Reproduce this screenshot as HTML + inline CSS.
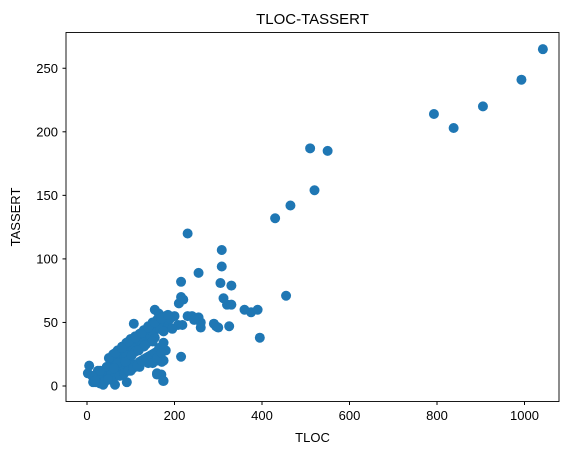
<!DOCTYPE html>
<html><head><meta charset="utf-8"><style>
body{margin:0;background:#fff;font-family:"Liberation Sans","DejaVu Sans",sans-serif;}
svg text{font-family:"Liberation Sans","DejaVu Sans",sans-serif;fill:#000;}
</style></head><body>
<svg id="chart" width="571" height="455" xmlns="http://www.w3.org/2000/svg">
<text x="312.5" y="24" font-size="15" text-anchor="middle">TLOC-TASSERT</text>
<g id="xticks"></g><g id="yticks"></g><g id="pts"></g>
<rect x="66" y="32.5" width="493" height="369" fill="none" stroke="#000" stroke-width="0.9"/>
<text x="312.5" y="442" font-size="13" text-anchor="middle">TLOC</text>
<text transform="translate(20,217) rotate(-90)" font-size="13" text-anchor="middle">TASSERT</text>
</svg>
<script>
const xTicks=[0,200,400,600,800,1000];
const yTicks=[0,50,100,150,200,250];
const tloc=[1042,993,905,793,838,510,550,520,465,430,230,308,255,308,215,330,305,215,312,320,330,255,260,260,290,295,300,325,360,375,390,395,455,218,215,175,175,160,170,200,210,220,230,240,245,
5,2,14,37,64,91,107,160,174,171,208,155,
20,25,30,35,40,45,50,55,60,65,70,75,80,85,90,95,100,105,110,115,120,125,130,135,140,145,150,155,160,165,170,175,180,185,
30,40,50,60,70,80,90,100,110,120,130,140,150,160,170,
25,45,65,85,105,125,145,165,185,55,75,95,115,135,155,175,
40,60,80,100,120,140,160,180,70,90,110,130,150,20,30,12,18,48,62,88,102,118,132,146,164,
60,70,80,90,100,110,120,130,140,150,160,170,180,190,
50,65,80,95,110,125,140,155,170,185,
75,85,95,105,115,125,135,145,155,165,175,150,160,170,195];
const tassert=[265,241,220,214,203,187,185,154,142,132,120,107,89,94,82,79,81,70,69,64,64,54,46,50,49,47,46,47,60,58,60,38,71,48,23,20,4,9,9,55,65,68,55,55,52,
16,10,3,1,1,3,49,10,4,19,48,60,
5,7,8,10,12,13,14,16,18,19,20,22,23,25,26,28,29,30,32,33,35,36,37,38,40,41,42,44,45,46,47,48,49,50,
2,4,5,7,9,11,13,15,17,19,21,23,25,27,29,
12,15,20,25,30,35,40,45,52,9,16,22,28,33,38,43,
3,6,9,12,15,18,20,28,18,24,27,31,35,3,12,8,4,5,14,19,24,28,32,44,57,
25,28,31,34,37,39,41,44,47,50,52,54,55,53,
22,26,30,35,38,42,46,50,53,56,
8,10,12,14,16,20,22,24,26,30,34,18,22,26,45];
const x0=87,xs=0.4375,y0=386,ys=1.271;
const X=v=>x0+v*xs, Y=v=>y0-v*ys;
const NS='http://www.w3.org/2000/svg';
const xt=document.getElementById('xticks'),yt=document.getElementById('yticks'),pg=document.getElementById('pts');
xTicks.forEach(t=>{
 const l=document.createElementNS(NS,'line');
 
 
 l.setAttribute('x1',X(t));l.setAttribute('x2',X(t));l.setAttribute('y1',401.5);l.setAttribute('y2',405);l.setAttribute('stroke','#000');
 xt.appendChild(l);
 const s=document.createElementNS(NS,'text');
 
 
 s.setAttribute('x',X(t));s.setAttribute('y',420);s.setAttribute('font-size','13');s.setAttribute('text-anchor','middle');
 s.textContent=t;xt.appendChild(s);
});
yTicks.forEach(t=>{
 const l=document.createElementNS(NS,'line');
 
 
 l.setAttribute('x1',62.5);l.setAttribute('x2',66);l.setAttribute('y1',Y(t));l.setAttribute('y2',Y(t));l.setAttribute('stroke','#000');
 yt.appendChild(l);
 const s=document.createElementNS(NS,'text');
 
 
 s.setAttribute('x',58);s.setAttribute('y',Y(t)+4.5);s.setAttribute('font-size','13');s.setAttribute('text-anchor','end');
 s.textContent=t;yt.appendChild(s);
});
tloc.forEach((v,i)=>{
 const c=document.createElementNS(NS,'circle');
 
 
 c.setAttribute('cx',X(v));c.setAttribute('cy',Y(tassert[i]));c.setAttribute('r',5);c.setAttribute('fill','#1f77b4');
 pg.appendChild(c);
});
</script>
</body></html>
